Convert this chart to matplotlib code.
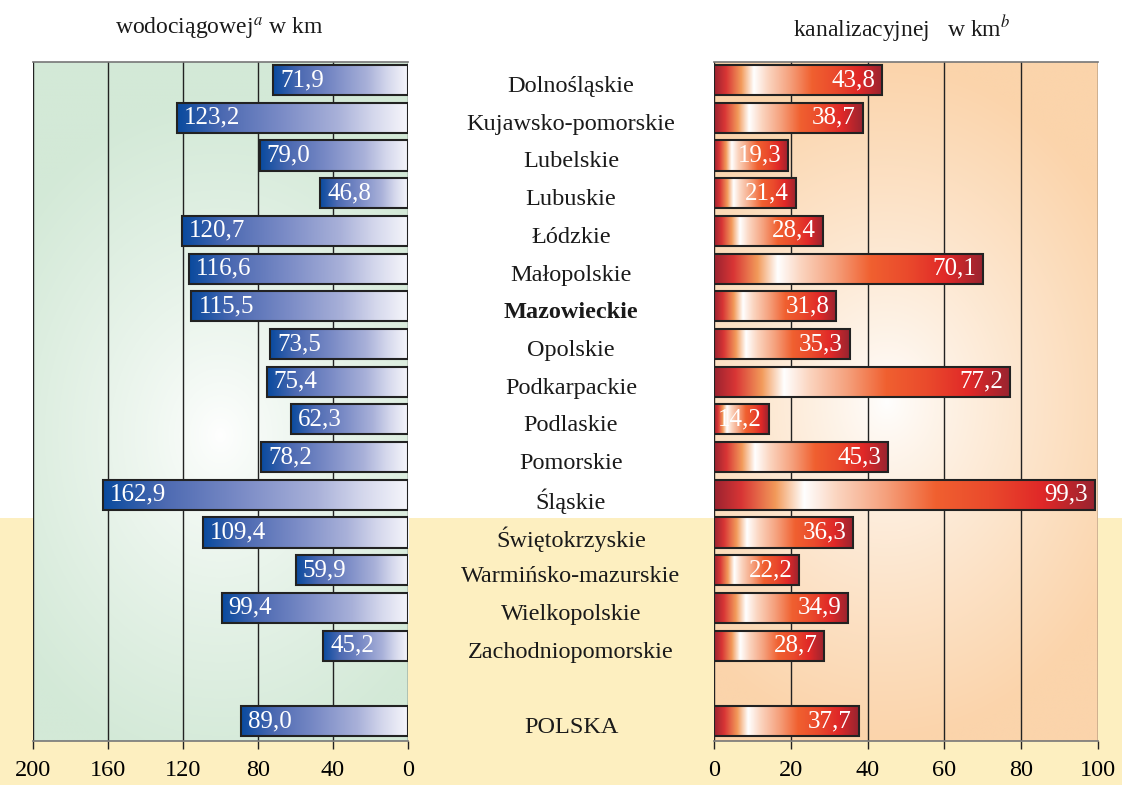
import numpy as np
import matplotlib
matplotlib.use("Agg")
import matplotlib.pyplot as plt
from matplotlib.colors import LinearSegmentedColormap, to_rgb
from matplotlib.patches import Rectangle
from matplotlib.transforms import blended_transform_factory

plt.rcParams["font.family"] = ["Liberation Serif", "DejaVu Serif"]
plt.rcParams["mathtext.fontset"] = "stix"

regions = ["Dolnośląskie", "Kujawsko-pomorskie", "Lubelskie", "Lubuskie", "Łódzkie",
           "Małopolskie", "Mazowieckie", "Opolskie", "Podkarpackie", "Podlaskie",
           "Pomorskie", "Śląskie", "Świętokrzyskie", "Warmińsko-mazurskie",
           "Wielkopolskie", "Zachodniopomorskie", "POLSKA"]
water = [71.9, 123.2, 79.0, 46.8, 120.7, 116.6, 115.5, 73.5, 75.4, 62.3,
         78.2, 162.9, 109.4, 59.9, 99.4, 45.2, 89.0]
sewer = [43.8, 38.7, 19.3, 21.4, 28.4, 70.1, 31.8, 35.3, 77.2, 14.2,
         45.3, 99.3, 36.3, 22.2, 34.9, 28.7, 37.7]
water_ticks = [200, 160, 120, 80, 40, 0]
sewer_ticks = [0, 20, 40, 60, 80, 100]

# row positions: one empty row before POLSKA
ypos = list(range(16)) + [17]
bar_h = 0.8

blue_cmap = LinearSegmentedColormap.from_list("blue", [
    (0.0, "#f6f6fb"), (0.15, "#d4d7ec"), (0.3, "#a9b1d9"), (0.55, "#7a8bc6"),
    (0.8, "#4d6ab2"), (0.95, "#1a52a3"), (1.0, "#0a4a9e")])
red_cmap = LinearSegmentedColormap.from_list("red", [
    (0.0, "#9b2330"), (0.07, "#d83535"), (0.16, "#f29a5a"), (0.235, "#ffffff"),
    (0.32, "#fbd5c0"), (0.45, "#f5a07c"), (0.58, "#f06030"), (0.72, "#ea4a2c"),
    (0.86, "#e02828"), (1.0, "#982430")])


def panel_background(ax, edge, cx, cy):
    n = 300
    xx, yy = np.meshgrid(np.linspace(0, 1, n), np.linspace(0, 1, n))
    r = np.sqrt(((xx - cx) / 0.7) ** 2 + ((yy - cy) / 0.5) ** 2)
    t = np.clip(r, 0, 1) ** 0.8
    e = np.array(to_rgb(edge))
    img = (1 - t[..., None]) * np.array([1.0, 1.0, 1.0]) + t[..., None] * e
    ax.imshow(img, extent=[0, 1, 0, 1], transform=ax.transAxes, origin="lower",
              aspect="auto", zorder=0, interpolation="bilinear")


fig = plt.figure(figsize=(11.22, 7.85), dpi=100)
fig.add_artist(Rectangle((0, 0), 1, 1 - 518 / 785, transform=fig.transFigure,
                         facecolor="#fdefc0", edgecolor="none", zorder=0))

axL = fig.add_axes([33 / 1122, 44 / 785, 375 / 1122, 679 / 785])
axR = fig.add_axes([714 / 1122, 44 / 785, 384 / 1122, 679 / 785])

panel_background(axL, "#d3e9d7", 0.5, 0.45)
panel_background(axR, "#fbd4ab", 0.45, 0.5)

grad = np.linspace(0, 1, 256).reshape(1, -1)

for ax, vals, cmap, ticks in [(axL, water, blue_cmap, water_ticks),
                              (axR, sewer, red_cmap, sewer_ticks)]:
    for t in ticks:
        ax.axvline(t, color="#222222", lw=1.0, zorder=1)
    for y, v in zip(ypos, vals):
        ax.imshow(grad, cmap=cmap, extent=[0, v, y + bar_h / 2, y - bar_h / 2],
                  aspect="auto", zorder=2, interpolation="bilinear")
        ax.add_patch(Rectangle((0, y - bar_h / 2), v, bar_h, facecolor="none",
                               edgecolor="#222222", lw=1.5, zorder=3))
    ax.set_ylim(17.53, -0.48)
    ax.set_yticks([])
    ax.set_xticks(ticks)
    ax.set_xticklabels([str(t) for t in ticks], fontsize=17.5)
    ax.tick_params(axis="x", direction="out", length=6, width=1,
                   color="#222222", pad=8)
    for s in ["left", "right"]:
        ax.spines[s].set_visible(False)
    for s in ["top", "bottom"]:
        ax.spines[s].set_color("#777777")
        ax.spines[s].set_linewidth(1.2)

axL.set_xlim(200, 0)
axR.set_xlim(0, 100)

for y, v in zip(ypos, water):
    axL.annotate(f"{v:.1f}".replace(".", ","), (v, y), xytext=(5, 0),
                 textcoords="offset points", ha="left", va="center",
                 color="white", fontsize=18, zorder=4)
for y, v in zip(ypos, sewer):
    axR.annotate(f"{v:.1f}".replace(".", ","), (v, y), xytext=(-5, 0),
                 textcoords="offset points", ha="right", va="center",
                 color="white", fontsize=18, zorder=4)

tr = blended_transform_factory(fig.transFigure, axL.transData)
for y, name in zip(ypos, regions):
    fig.text(571 / 1122, y + 0.17, name, transform=tr, ha="center", va="center",
             fontsize=17.5, color="#1a1a1a",
             fontweight="bold" if name == "Mazowieckie" else "normal")

fig.text(219 / 1122, 1 - 29 / 785, "wodociągowej$^{a}$ w km", ha="center",
         va="center", fontsize=17, color="#1a1a1a")
fig.text(902 / 1122, 1 - 29 / 785, "kanalizacyjnej   w km$^{b}$", ha="center",
         va="center", fontsize=17, color="#1a1a1a")

fig.savefig("out.png", dpi=100)
